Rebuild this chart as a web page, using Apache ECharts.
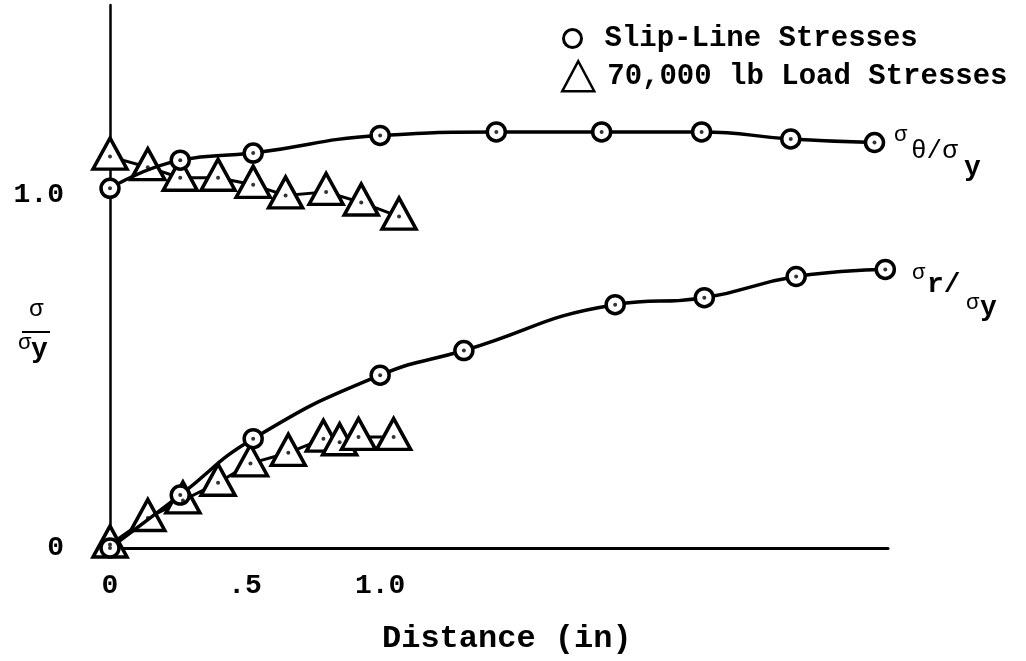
<!DOCTYPE html>
<html>
<head>
<meta charset="utf-8">
<title>Slip-line vs load stresses</title>
<script src="https://cdn.jsdelivr.net/npm/echarts@6/dist/echarts.min.js"></script>
<style>
  html, body { margin: 0; padding: 0; background: #fff; }
  #chart { width: 1026px; height: 661px; }
</style>
</head>
<body>
<div id="chart"></div>
<script>
// slip-line stresses (circles)
const slipThetaX = [0, 0.26, 0.53, 1.0, 1.43, 1.82, 2.19, 2.52, 2.83]
const slipThetaY = [1.02, 1.10, 1.12, 1.17, 1.18, 1.18, 1.18, 1.16, 1.15]
const slipRadialX = [0, 0.26, 0.53, 1.0, 1.31, 1.87, 2.2, 2.54, 2.87]
const slipRadialY = [0, 0.15, 0.31, 0.49, 0.56, 0.69, 0.71, 0.77, 0.79]

// 70,000 lb load stresses (triangles)
const loadThetaX = [0, 0.14, 0.26, 0.40, 0.53, 0.65, 0.80, 0.93, 1.07]
const loadThetaY = [1.11, 1.08, 1.05, 1.05, 1.03, 1.00, 1.01, 0.98, 0.94]
const loadRadialX = [0, 0.14, 0.27, 0.40, 0.52, 0.66, 0.79, 0.85, 0.92, 1.05]
const loadRadialY = [0.01, 0.085, 0.135, 0.185, 0.24, 0.27, 0.31, 0.30, 0.315, 0.315]

const xTicks = [0, 0.5, 1.0]
const xTickLabels = ['0', '.5', '1.0']
const yTicks = [0, 1.0]
const yTickLabels = ['0', '1.0']

const SLIP = 'Slip-Line Stresses'
const LOAD = '70,000 lb Load Stresses'
const FONT = 'Liberation Mono'

function pairs(xs, ys) {
  return xs.map((x, i) => [x, ys[i]])
}

const chart = echarts.init(document.getElementById('chart'))

const triangleSeries = (data) => ({
  type: 'line',
  name: LOAD,
  data: data,
  symbol: 'triangle',
  symbolSize: [34, 31],
  symbolOffset: [0, -3],
  itemStyle: { color: '#fff', borderColor: '#000', borderWidth: 3.5 },
  lineStyle: { color: '#000', width: 3 },
  z: 2
})

const circleSeries = (data) => ({
  type: 'line',
  name: SLIP,
  data: data,
  smooth: 0.5,
  symbol: 'circle',
  symbolSize: 18,
  itemStyle: { color: '#fff', borderColor: '#000', borderWidth: 3.5 },
  lineStyle: { color: '#000', width: 3.5 },
  z: 3
})

const allPoints = [].concat(
  pairs(slipThetaX, slipThetaY),
  pairs(slipRadialX, slipRadialY),
  pairs(loadThetaX, loadThetaY),
  pairs(loadRadialX, loadRadialY)
)

const txt = (left, top, text, size, weight) => ({
  type: 'text',
  left: left,
  top: top,
  style: {
    text: text,
    fontFamily: FONT,
    fontSize: size,
    fontWeight: weight || 'bold',
    fill: '#000'
  }
})

const option = {
  animation: false,
  backgroundColor: '#fff',
  grid: { left: 110, right: 138, top: 5, bottom: 113, outerBoundsMode: 'none' },
  legend: [
    {
      left: 557, top: 19, itemWidth: 18, itemHeight: 18,
      selectedMode: false,
      data: [{ name: SLIP, icon: 'circle', itemStyle: { color: '#fff', borderColor: '#000', borderWidth: 3 } }],
      textStyle: { fontFamily: FONT, fontWeight: 'bold', fontSize: 29, color: '#000', padding: [0, 0, 0, 18] }
    },
    {
      left: 556, top: 55, itemWidth: 32, itemHeight: 30,
      selectedMode: false,
      data: [{ name: LOAD, icon: 'triangle', itemStyle: { color: '#fff', borderColor: '#000', borderWidth: 2.5 } }],
      textStyle: { fontFamily: FONT, fontWeight: 'bold', fontSize: 29, color: '#000', padding: [0, 0, 0, 8] }
    }
  ],
  xAxis: {
    type: 'value',
    min: 0,
    max: 2.88,
    axisLine: { show: true, onZero: false, lineStyle: { color: '#000', width: 3 } },
    axisTick: { show: false },
    splitLine: { show: false },
    axisLabel: {
      customValues: xTicks,
      formatter: (v) => xTickLabels[xTicks.indexOf(v)],
      fontFamily: FONT, fontWeight: 'bold', fontSize: 28, color: '#000',
      margin: 24
    }
  },
  yAxis: {
    type: 'value',
    min: 0,
    max: 1.54,
    axisLine: { show: true, onZero: false, lineStyle: { color: '#000', width: 2.5 } },
    axisTick: { show: false },
    splitLine: { show: false },
    axisLabel: {
      customValues: yTicks,
      formatter: (v) => yTickLabels[yTicks.indexOf(v)],
      fontFamily: FONT, fontWeight: 'bold', fontSize: 28, color: '#000',
      align: 'right',
      margin: 46
    }
  },
  graphic: [
    txt(382, 623, 'Distance (in)', 32),
    // y axis label: sigma over sigma_y
    txt(29, 298, 'σ', 24, 'normal'),
    { type: 'line', shape: { x1: 22, y1: 332, x2: 50, y2: 332 }, style: { stroke: '#000', lineWidth: 2 } },
    txt(18, 332, 'σ', 22, 'normal'),
    txt(31, 336, 'y', 28),
    // sigma_theta / sigma_y
    txt(894, 124, 'σ', 22, 'normal'),
    txt(911, 138, 'θ/σ', 26, 'normal'),
    txt(964, 154, 'y', 28),
    // sigma_r / sigma_y
    txt(912, 262, 'σ', 22, 'normal'),
    txt(927, 271, 'r/', 28),
    txt(966, 292, 'σ', 22, 'normal'),
    txt(980, 294, 'y', 28)
  ],
  series: [
    triangleSeries(pairs(loadThetaX, loadThetaY)),
    triangleSeries(pairs(loadRadialX, loadRadialY)),
    circleSeries(pairs(slipThetaX, slipThetaY)),
    circleSeries(pairs(slipRadialX, slipRadialY)),
    {
      type: 'scatter',
      name: 'centres',
      data: allPoints,
      symbolSize: 4,
      itemStyle: { color: '#000' },
      silent: true,
      z: 5
    }
  ]
}

chart.setOption(option)
</script>
</body>
</html>
